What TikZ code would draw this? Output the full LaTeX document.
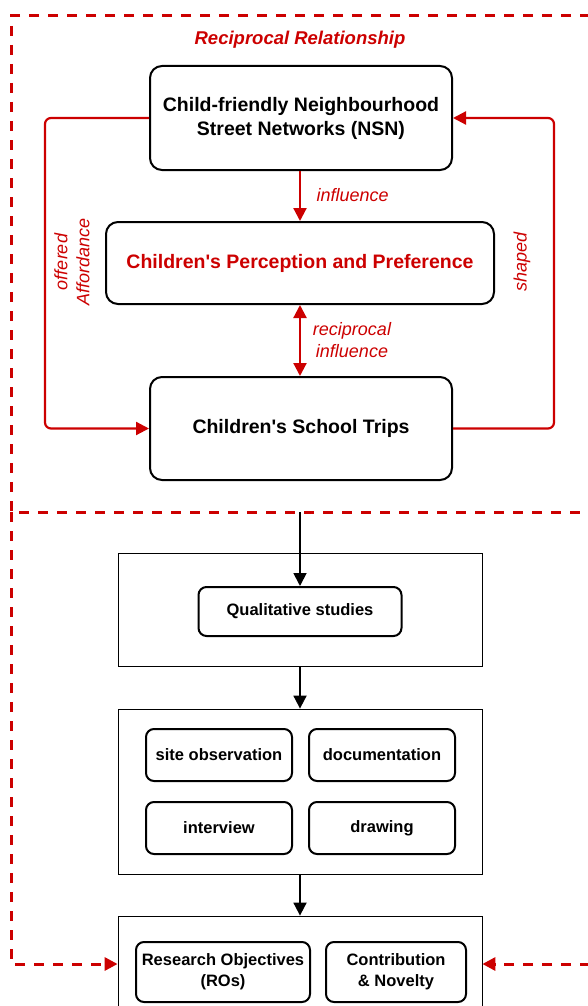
\documentclass[tikz,border=0pt]{standalone}
\usepackage{fontspec}
\setmainfont{Liberation Sans}[Ligatures=TeXOff]
\usetikzlibrary{arrows.meta}
\definecolor{linkred}{HTML}{CC0000}

\begin{document}
\begin{tikzpicture}[x=1pt,y=-1pt,
    bigbox/.style={draw,line width=2pt,rounded corners=12pt,align=center,inner sep=0pt,
      font=\fontsize{19.5}{24}\selectfont\bfseries},
    smallbox/.style={draw,line width=2pt,rounded corners=8pt,align=center,inner sep=0pt,
      font=\fontsize{16.5}{21}\selectfont\bfseries},
    framebox/.style={draw,line width=0.8pt,inner sep=0pt},
    redlabel/.style={text=linkred,align=center,font=\fontsize{18}{22}\selectfont\itshape},
    redlink/.style={draw=linkred,line width=2.2pt,rounded corners=6pt},
    redborder/.style={draw=linkred,line width=3pt,dash pattern=on 10pt off 9pt},
    redtip/.style={-{Triangle[length=13pt,width=13pt]}},
    blackarrow/.style={line width=1.8pt,-{Triangle[length=13pt,width=13pt]}}]
  \useasboundingbox (0,0) rectangle (587,1006);

  % dashed frame
  \draw[redborder] (590,16) -- (11,16) -- (11,512) -- (590,512);
  \coordinate (leftcorner) at (11,512);
  \coordinate (rightend) at (590,964);
  \coordinate (split) at (300,512);

  % reciprocal relationship
  \node[redlabel,font=\fontsize{18.5}{22}\selectfont\bfseries\itshape] (title) at (300,40) {Reciprocal Relationship};
  \node[bigbox,minimum width=302,minimum height=104] (nsn) at (301,118)
    {Child-friendly Neighbourhood\\Street Networks (NSN)};
  \node[bigbox,text=linkred,minimum width=388,minimum height=82] (perc) at (300,263)
    {Children's Perception and Preference};
  \node[bigbox,minimum width=302,minimum height=103] (trips) at (301,428.5)
    {Children's School Trips};

  \draw[redlink,redtip] (nsn.south -| 300,0) -- (perc.north);
  \draw[redlink,{Triangle[length=13pt,width=13pt]}-{Triangle[length=13pt,width=13pt]}]
    (perc.south) -- (trips.north -| 300,0);
  \draw[redlink,redtip] (nsn.west) -- ++(-104,0) |- (trips.west);
  \draw[redlink,redtip] (trips.east) -- ++(101,0) |- (nsn.east);

  \node[redlabel,anchor=west] (inflab) at (313,195) {influence};
  \node[redlabel] (reclab) at (352,340) {reciprocal\\influence};
  \node[redlabel,rotate=90] (afflab) at (72,262) {offered\\Affordance};
  \node[redlabel,rotate=90] (shapelab) at (522,262) {shaped};

  % methods
  \node[framebox,minimum width=364,minimum height=113] (cont1) at (300,609.5) {};
  \node[smallbox,minimum width=203,minimum height=49] (qual) at (300,611.5) {Qualitative studies};
  \node[framebox,minimum width=364,minimum height=165] (cont2) at (300,791.5) {};
  \node[smallbox,minimum width=146,minimum height=52] (siteobs) at (219,755) {site observation};
  \node[smallbox,minimum width=146,minimum height=52] (docu) at (382,755) {documentation};
  \node[smallbox,minimum width=146,minimum height=52] (intv) at (219,828) {interview};
  \node[smallbox,minimum width=146,minimum height=52] (draw) at (382,828) {drawing};
  \node[framebox,minimum width=364,minimum height=96] (cont3) at (300,964) {};
  \node[smallbox,minimum width=174,minimum height=60] (ros) at (223,972) {Research Objectives\\(ROs)};
  \node[smallbox,minimum width=140,minimum height=60] (contrib) at (396,972) {Contribution\\\& Novelty};

  \draw[blackarrow] (split) -- (qual.north);
  \draw[blackarrow] (cont1.south) -- (cont2.north);
  \draw[blackarrow] (cont2.south) -- (cont3.north);

  \draw[redborder,redtip] (leftcorner) |- (cont3.west);
  \draw[redborder,redtip] (rightend) -- (cont3.east);
\end{tikzpicture}
\end{document}
